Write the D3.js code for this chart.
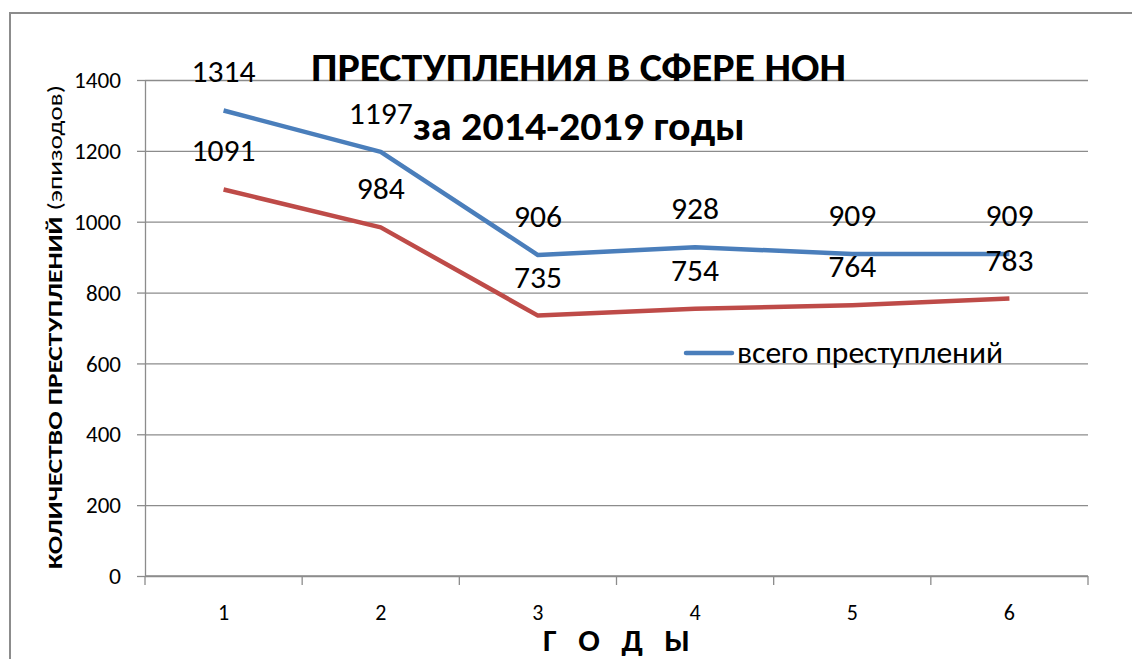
<!DOCTYPE html>
<html lang="ru">
<head>
  <meta charset="UTF-8">
  <title>Преступления в сфере НОН</title>
  <script src="https://d3js.org/d3.v7.min.js"></script>
  <style>
    body { margin: 0; background: #fff; }
    svg text { font-family: Carlito, "Open Sans", "DejaVu Sans", sans-serif; fill: #000; }
  </style>
</head>
<body>
  <svg id="chart" width="1132" height="659"></svg>
  <script>
    // values
    const years = [1, 2, 3, 4, 5, 6];
    const totalCrimes = [1314, 1197, 906, 928, 909, 909];
    const otherCrimes = [1091, 984, 735, 754, 764, 783];
    const yTicks = [0, 200, 400, 600, 800, 1000, 1200, 1400];

    const svg = d3.select("#chart");
    const margin = { left: 145, right: 1088, top: 80, bottom: 576 };

    // outer frame
    svg.append("rect")
      .attr("x", 10).attr("y", 13)
      .attr("width", 1140).attr("height", 660)
      .attr("fill", "none").attr("stroke", "#8c8c8c").attr("stroke-width", 2);

    const x = d3.scaleBand().domain(years).range([margin.left, margin.right]);
    const y = d3.scaleLinear().domain([0, 1400]).range([margin.bottom, margin.top]);

    // gridlines
    svg.append("g")
      .attr("transform", `translate(${margin.left},0)`)
      .call(d3.axisLeft(y).tickValues(yTicks).tickSize(-(margin.right - margin.left)).tickFormat(""))
      .call(g => g.select(".domain").remove())
      .call(g => g.selectAll("line").attr("stroke", "#8c8c8c").attr("stroke-width", 1.3));

    // y axis
    svg.append("g")
      .attr("transform", `translate(${margin.left},0)`)
      .call(d3.axisLeft(y).tickValues(yTicks).tickFormat(d3.format("d")).tickSize(8).tickPadding(16).tickSizeOuter(0))
      .call(g => g.selectAll("line, path").attr("stroke", "#8c8c8c").attr("stroke-width", 1.3))
      .call(g => g.selectAll("text").attr("font-size", 22).attr("dy", "0.35em")
        .attr("textLength", d => d >= 1000 ? 47 : d > 0 ? 35 : 12).attr("lengthAdjust", "spacingAndGlyphs"));

    // x axis (ticks between categories)
    const xAxis = svg.append("g").attr("transform", `translate(0,${margin.bottom})`);
    xAxis.append("line")
      .attr("x1", margin.left).attr("x2", margin.right)
      .attr("stroke", "#8c8c8c").attr("stroke-width", 1.3);
    const bounds = years.map(d => x(d)).concat([x(years[years.length - 1]) + x.bandwidth()]);
    xAxis.selectAll(".tk").data(bounds).join("line")
      .attr("x1", d => d).attr("x2", d => d).attr("y1", 0).attr("y2", 9)
      .attr("stroke", "#8c8c8c").attr("stroke-width", 1.3);
    xAxis.selectAll(".lbl").data(years).join("text")
      .attr("x", d => x(d) + x.bandwidth() / 2).attr("y", 44)
      .attr("text-anchor", "middle").attr("font-size", 22)
      .text(d => d);

    // lines
    const line = d3.line()
      .x((d, i) => x(years[i]) + x.bandwidth() / 2)
      .y(d => y(d));

    const series = [
      { values: otherCrimes, color: "#be4b48" },
      { values: totalCrimes, color: "#4a7ebb" }
    ];

    series.forEach(s => {
      svg.append("path")
        .datum(s.values)
        .attr("fill", "none")
        .attr("stroke", s.color)
        .attr("stroke-width", 4.5)
        .attr("stroke-linejoin", "round")
        .attr("d", line);
    });

    // data labels
    series.forEach(s => {
      svg.append("g").selectAll("text").data(s.values).join("text")
        .attr("x", (d, i) => x(years[i]) + x.bandwidth() / 2)
        .attr("y", d => y(d) - 28)
        .attr("text-anchor", "middle")
        .attr("font-size", 31)
        .attr("textLength", d => d >= 1000 ? 64 : 48).attr("lengthAdjust", "spacingAndGlyphs")
        .text(d => d);
    });

    // title
    svg.append("text")
      .attr("x", 311).attr("y", 81)
      .attr("font-size", 40).attr("font-weight", "bold")
      .attr("textLength", 535).attr("lengthAdjust", "spacingAndGlyphs")
      .text("ПРЕСТУПЛЕНИЯ В СФЕРЕ НОН");
    svg.append("text")
      .attr("x", 413).attr("y", 140)
      .attr("font-size", 40).attr("font-weight", "bold")
      .attr("textLength", 332).attr("lengthAdjust", "spacingAndGlyphs")
      .text("за 2014-2019 годы");

    // y axis title
    const yt = svg.append("text")
      .attr("transform", "translate(62,327) rotate(-90)")
      .attr("text-anchor", "middle")
      .attr("font-size", 20)
      .attr("textLength", 484).attr("lengthAdjust", "spacingAndGlyphs");
    yt.append("tspan").attr("font-weight", "bold").text("КОЛИЧЕСТВО ПРЕСТУПЛЕНИЙ ");
    yt.append("tspan").text("(эпизодов)");

    // x axis title (spaced letters)
    svg.append("text")
      .attr("x", 543).attr("y", 651)
      .attr("font-size", 31).attr("font-weight", "bold")
      .attr("textLength", 147).attr("lengthAdjust", "spacingAndGlyphs")
      .style("white-space", "pre")
      .text("Г   О   Д   Ы");

    // legend
    const lg = svg.append("g").attr("transform", "translate(686,353)");
    lg.append("line")
      .attr("x1", 0).attr("x2", 46)
      .attr("stroke", "#4a7ebb").attr("stroke-width", 4.5).attr("stroke-linecap", "round");
    lg.append("text")
      .attr("x", 51).attr("y", 10)
      .attr("font-size", 30)
      .attr("textLength", 266).attr("lengthAdjust", "spacingAndGlyphs")
      .text("всего преступлений");
  </script>
</body>
</html>
